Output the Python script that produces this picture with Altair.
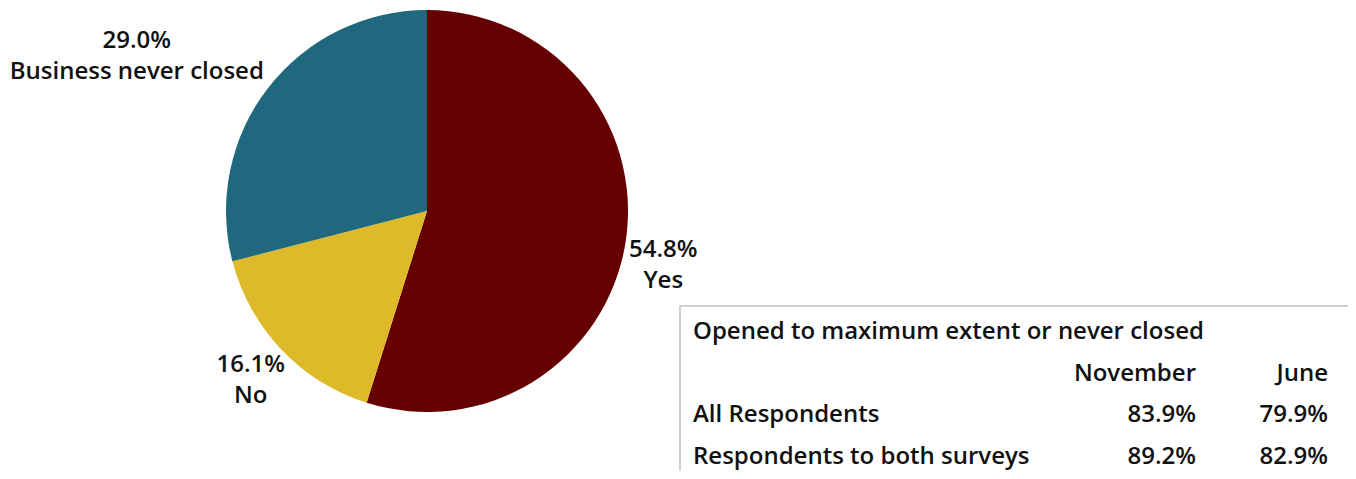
import altair as alt
import pandas as pd

# Pie data
categories = ["Yes", "No", "Business never closed"]
shares = [54.8, 16.1, 29.0]
colors = ["#660000", "#DEBA2B", "#1F687D"]

# Table data
table_title = "Opened to maximum extent or never closed"
table_columns = ["November", "June"]
table_rows = ["All Respondents", "Respondents to both surveys"]
november_values = ["83.9%", "89.2%"]
june_values = ["79.9%", "82.9%"]

FONT = "Open Sans"
FS = 24
FW = 600
TXT = "#111111"

pie_df = pd.DataFrame({
    "category": categories,
    "share": shares,
    "order": list(range(len(categories))),
})
pie_df["label"] = [[f"{s:.1f}%", c] for s, c in zip(shares, categories)]

CX, CY, R = 419, 203, 201

theta_scale = alt.Scale(domain=[0, 1])

base = alt.Chart(pie_df).transform_joinaggregate(
    total="sum(share)"
).transform_window(
    cum="sum(share)", sort=[alt.SortField("order")], frame=[None, 0]
).transform_calculate(
    f0="(datum.cum - datum.share) / datum.total",
    f1="datum.cum / datum.total",
    fm="(datum.cum - datum.share / 2) / datum.total",
)

arcs = base.mark_arc(outerRadius=R, x=CX, y=CY).encode(
    theta=alt.Theta("f0:Q", scale=theta_scale),
    theta2="f1:Q",
    color=alt.Color("category:N", scale=alt.Scale(domain=categories, range=colors), legend=None),
)

def label_layer(cat, radius, dx, dy):
    return base.transform_filter(alt.datum.category == cat).mark_text(
        radius=radius, x=CX, y=CY, align="center", baseline="middle", dx=dx, dy=dy,
        font=FONT, fontSize=FS, fontWeight=FW, color=TXT, lineHeight=31,
    ).encode(
        theta=alt.Theta("fm:Q", scale=theta_scale),
        text="label",
    )

labels = (
    label_layer("Yes", 238, 1, 3)
    + label_layer("No", 232, -8, -6)
    + label_layer("Business never closed", 300, -53, 14)
)

# Table
row_keys = ["title", "header"] + table_rows
ys = alt.Scale(domain=row_keys, range=[324, 449], padding=0)

title_df = pd.DataFrame({"row": ["title"] + table_rows, "text": [table_title] + table_rows})
nov_df = pd.DataFrame({"row": ["header"] + table_rows, "text": [table_columns[0]] + november_values})
jun_df = pd.DataFrame({"row": ["header"] + table_rows, "text": [table_columns[1]] + june_values})

box = alt.Chart(pd.DataFrame({"a": [0]})).mark_rect(
    fill="white", stroke="#CFCFCF", strokeWidth=2
).encode(x=alt.value(672), x2=alt.value(1400), y=alt.value(298), y2=alt.value(520))

def table_col(df, xpos, align):
    return alt.Chart(df).mark_text(
        align=align, baseline="middle", font=FONT, fontSize=FS, fontWeight=FW, color=TXT
    ).encode(
        x=alt.value(xpos),
        y=alt.Y("row:N", scale=ys, axis=None),
        text="text:N",
    )

tcol0 = table_col(title_df, 685, "left")
tcol1 = table_col(nov_df, 1188, "right")
tcol2 = table_col(jun_df, 1320, "right")

chart = alt.layer(arcs, labels, box, tcol0, tcol1, tcol2).properties(
    width=1340, height=463, padding=0,
    autosize=alt.AutoSizeParams(type="none"),
).configure_view(stroke=None)

chart.save("out.html", embed_options={"renderer": "svg", "actions": False})
